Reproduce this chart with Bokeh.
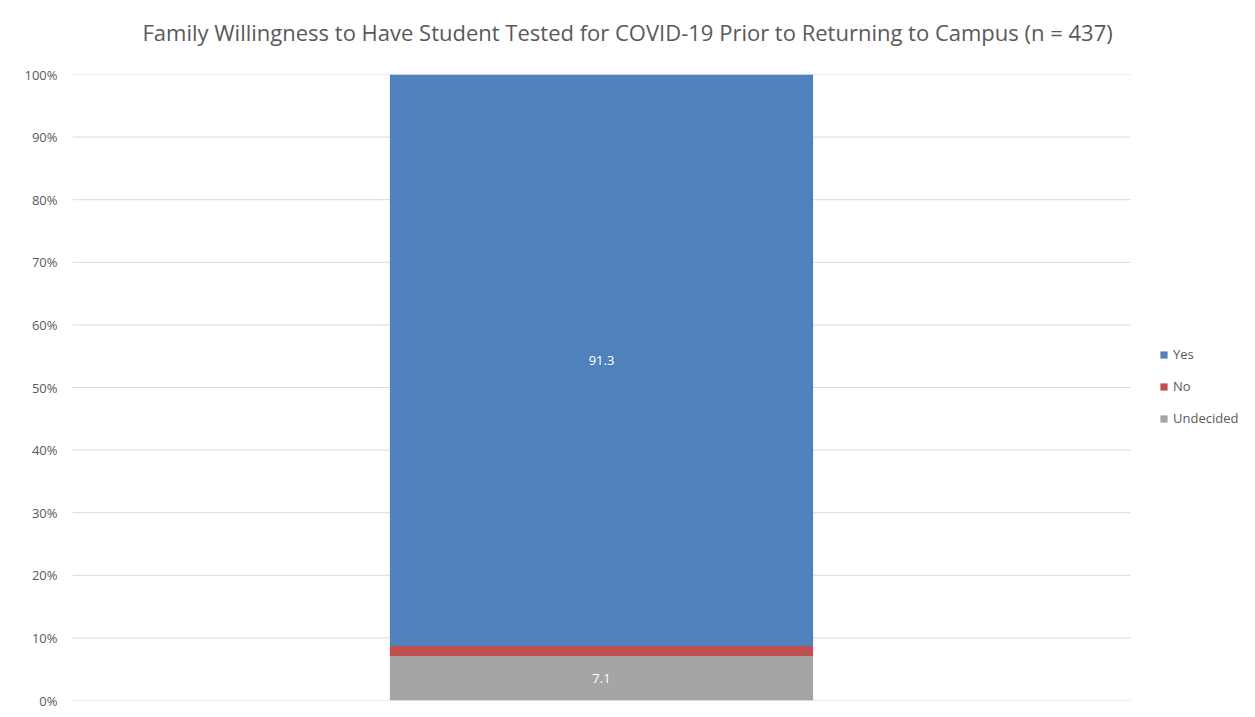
from bokeh.plotting import figure
from bokeh.models import (ColumnDataSource, Legend, LegendItem, FixedTicker,
                          PrintfTickFormatter, LabelSet, Range1d, Title)
from bokeh.core.properties import value
from bokeh.embed import file_html
from bokeh.resources import INLINE

categories = ["All families"]
series = ["Undecided", "No", "Yes"]
undecided = [7.1]
no = [1.6]
yes = [91.3]
label_values = ["7.1", "", "91.3"]
y_ticks = [0, 10, 20, 30, 40, 50, 60, 70, 80, 90, 100]
colors = ["#A5A5A5", "#C0504D", "#4F81BD"]

FONT = "Open Sans"
TXT = "#595959"

W, H = 1250, 712
LEFT, RIGHT_PLOT, TOP, BOTTOM = 72, 1130, 74, 700
frame_w = W - LEFT
plot_w = RIGHT_PLOT - LEFT
xmax = frame_w / plot_w  # 0..1 is the plotting area, beyond it is the legend zone

src = ColumnDataSource(dict(x=[0.5], Undecided=undecided, No=no, Yes=yes))

p = figure(width=W, height=H, x_range=Range1d(0, xmax), y_range=Range1d(0, 100),
           output_backend="svg", toolbar_location=None,
           min_border_left=LEFT, min_border_right=0, min_border_top=TOP,
           min_border_bottom=H - BOTTOM, outline_line_color=None)

# horizontal gridlines over the plotting area only
p.segment(x0=[0] * len(y_ticks), x1=[1] * len(y_ticks), y0=y_ticks, y1=y_ticks,
          line_color="#D9D9D9", line_width=1)

renderers = p.vbar_stack(series, x="x", width=0.4, color=colors, source=src,
                         line_color=None)

# data labels at segment midpoints
vals = [undecided[0], no[0], yes[0]]
mids = []
acc = 0
for v in vals:
    mids.append(acc + v / 2)
    acc += v
lab_src = ColumnDataSource(dict(x=[0.5] * 3, y=mids, t=label_values))
p.add_layout(LabelSet(x="x", y="y", text="t", source=lab_src,
                      text_align="center", text_baseline="middle",
                      text_color="white", text_font=value(FONT),
                      text_font_size="13px"))

p.xaxis.visible = False
p.xgrid.visible = False
p.ygrid.visible = False
p.yaxis.ticker = FixedTicker(ticks=y_ticks)
p.yaxis.formatter = PrintfTickFormatter(format="%d%%")
p.yaxis.axis_line_color = None
p.yaxis.major_tick_line_color = None
p.yaxis.minor_tick_line_color = None
p.yaxis.major_label_text_font = FONT
p.yaxis.major_label_text_font_size = "13px"
p.yaxis.major_label_text_color = TXT
p.yaxis.major_label_standoff = 9

legend = Legend(items=[LegendItem(label="Yes", renderers=[renderers[2]]),
                       LegendItem(label="No", renderers=[renderers[1]]),
                       LegendItem(label="Undecided", renderers=[renderers[0]])],
                location=(1087, 273), border_line_color=None,
                background_fill_alpha=0,
                glyph_width=9, glyph_height=9, label_text_font=FONT,
                label_text_font_size="13px", label_text_color=TXT,
                spacing=14, padding=0, margin=0, label_standoff=5)
p.add_layout(legend, "center")

p.title.text = "Family Willingness to Have Student Tested for COVID-19 Prior to Returning to Campus (n = 437)"
p.title.text_font = FONT
p.title.text_font_size = "22px"
p.title.text_font_style = "normal"
p.title.text_color = TXT
p.title.align = "left"
p.title.offset = 70

# empty spacer title between the main title and the plot area
p.add_layout(Title(text=" ", text_font_size="16px", standoff=4), "above")

open("out.html", "w").write(file_html(p, INLINE))
